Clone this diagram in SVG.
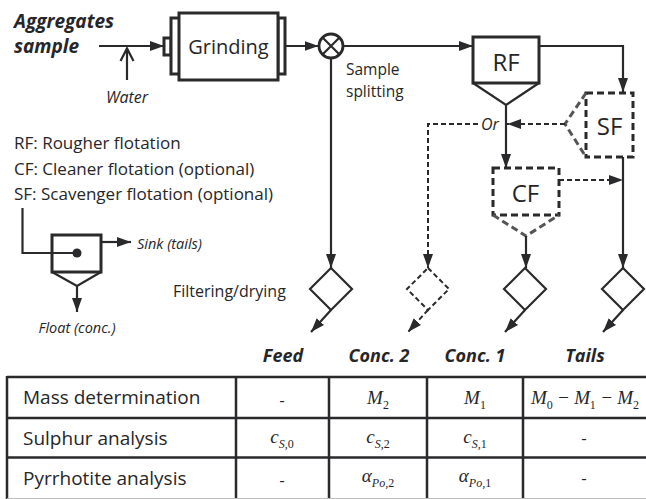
<svg xmlns="http://www.w3.org/2000/svg" width="646" height="499" viewBox="0 0 646 499">
  <style>
    .ln{fill:none;stroke:#2a2a2c;stroke-width:2.2}
    .dl{fill:none;stroke:#2a2a2c;stroke-width:2;stroke-dasharray:5 3}
    .box{fill:#fff;stroke:#2a2a2c;stroke-width:3}
    .dbox{fill:#fff;stroke:#2a2a2c;stroke-width:3;stroke-dasharray:7 4}
    .dv{fill:none;stroke:#555;stroke-width:3;stroke-dasharray:7 4}
    .tb{fill:none;stroke:#2a2a2c;stroke-width:2.5}
    text{font-family:"Open Sans","DejaVu Sans",sans-serif;fill:#262628}
    .bi{font-weight:bold;font-style:italic}
    .it{font-style:italic}
    .mi{font-family:"Liberation Serif","DejaVu Serif",serif;font-style:italic;font-size:19px}
    .sb{font-size:12px}
    .up{font-style:normal}
  </style>
  <defs>
    <marker id="ah" markerUnits="userSpaceOnUse" markerWidth="15" markerHeight="11" refX="14" refY="5" orient="auto">
      <path d="M0,0 L14,5 L0,10 z" fill="#2a2a2c"/>
    </marker>
  </defs>

  <!-- feed label and water input -->
  <g id="input">
    <text class="bi" x="14" y="28" font-size="19">Aggregates</text>
    <text class="bi" x="14" y="53" font-size="19">sample</text>
    <text class="it" x="127" y="103" font-size="16" text-anchor="middle">Water</text>
  </g>

  <!-- grinding mill -->
  <g id="grinding">
    <rect class="box" x="164" y="38" width="7" height="17" stroke-width="2.5"/>
    <rect class="box" x="171" y="18" width="9" height="56" stroke-width="2.5"/>
    <rect class="box" x="278" y="18" width="7" height="56" stroke-width="2.5"/>
    <rect class="box" x="179" y="13" width="99" height="67"/>
    <text x="228.5" y="54" font-size="20" text-anchor="middle">Grinding</text>
  </g>

  <!-- sample splitter -->
  <g id="splitter">
    <circle cx="331" cy="46" r="12" fill="#fff" stroke="#2a2a2c" stroke-width="2.8"/>
    <path class="ln" d="M322.5,37.5 L339.5,54.5 M339.5,37.5 L322.5,54.5" stroke-width="2.8"/>
    <text font-size="15.5"><tspan x="346" y="75">Sample</tspan><tspan x="346" y="96.5">splitting</tspan></text>
  </g>

  <!-- rougher flotation -->
  <g id="rf">
    <rect class="box" x="473" y="37" width="66" height="46"/>
    <path class="ln" d="M473,83 L506,105 L539,83" stroke-width="2.6"/>
    <text x="506" y="70.5" font-size="24" text-anchor="middle">RF</text>
  </g>

  <!-- scavenger flotation (optional) -->
  <g id="sf">
    <rect class="dbox" x="586" y="93" width="47" height="64"/>
    <path class="dv" d="M586,93 L565,124 L586,157" stroke="#2a2a2c"/>
    <text x="609.5" y="135" font-size="24" text-anchor="middle">SF</text>
  </g>

  <!-- cleaner flotation (optional) -->
  <g id="cf">
    <rect class="dbox" x="493" y="168" width="66" height="47"/>
    <path class="dv" d="M493,215 L526,236 L559,215"/>
    <text x="525.5" y="201.5" font-size="24" text-anchor="middle">CF</text>
  </g>

  <text class="it" x="481" y="129.5" font-size="16">Or</text>

  <!-- filtering / drying units -->
  <g id="filter-feed">
    <path class="ln" d="M331,268 L352,289 L331,310 L310,289 Z" stroke-width="2.5"/>
    <text x="173" y="297" font-size="16">Filtering/drying</text>
  </g>
  <g id="filter-conc2">
    <path class="dl" d="M428,268 L449,289 L428,310 L407,289 Z" stroke-width="2.5"/>
  </g>
  <g id="filter-conc1">
    <path class="ln" d="M525,268 L546,289 L525,310 L504,289 Z" stroke-width="2.5"/>
  </g>
  <g id="filter-tails">
    <path class="ln" d="M623,268 L644,289 L623,310 L602,289 Z" stroke-width="2.5"/>
  </g>

  <!-- connectors -->
  <g id="connectors">
    <path class="ln" d="M99,46 L164,46" marker-end="url(#ah)"/>
    <path class="ln" d="M127,80 L127,48" stroke-width="1.6"/>
    <path class="ln" d="M120.5,61 L127,48.5 L133.5,61" stroke-width="1.6"/>
    <path class="ln" d="M285,46 L318.5,46" marker-end="url(#ah)"/>
    <path class="ln" d="M343,46 L473,46" marker-end="url(#ah)"/>
    <path class="ln" d="M331,58 L331,268" marker-end="url(#ah)"/>
    <path class="ln" d="M539,46 L623,46 L623,92" marker-end="url(#ah)"/>
    <path class="ln" d="M506,105 L506,168" marker-end="url(#ah)"/>
    <path class="dl" d="M565,124 L507,124" marker-end="url(#ah)"/>
    <path class="dl" d="M478,124 L428,124 L428,268" marker-end="url(#ah)"/>
    <path class="dl" d="M559,180 L623,180" marker-end="url(#ah)"/>
    <path class="ln" d="M623,157 L623,268" marker-end="url(#ah)"/>
    <path class="ln" d="M526,236 L526,268" marker-end="url(#ah)"/>
    <path class="ln" d="M331,310 L311,332" marker-end="url(#ah)"/>
    <path class="dl" d="M428,310 L408,332" marker-end="url(#ah)"/>
    <path class="ln" d="M525,310 L505,332" marker-end="url(#ah)"/>
    <path class="ln" d="M623,310 L603,332" marker-end="url(#ah)"/>
  </g>

  <!-- legend -->
  <g id="legend">
    <text x="14" y="149" font-size="17">RF: Rougher flotation</text>
    <text x="14" y="175" font-size="17">CF: Cleaner flotation (optional)</text>
    <text x="14" y="200" font-size="17">SF: Scavenger flotation (optional)</text>
    <rect class="box" x="52" y="235" width="49" height="37"/>
    <path class="ln" d="M52,272 L77,286 L101,272" stroke-width="2.8"/>
    <path class="ln" d="M22.5,208 L22.5,253 L77,253" stroke-width="1.6"/>
    <circle cx="77" cy="253" r="4.5" fill="#2a2a2c"/>
    <path class="ln" d="M101,242 L131,242" marker-end="url(#ah)"/>
    <path class="ln" d="M77,286 L77,312" marker-end="url(#ah)"/>
    <text class="it" x="137" y="249" font-size="14.5">Sink (tails)</text>
    <text class="it" x="77" y="333" font-size="14.5" text-anchor="middle">Float (conc.)</text>
  </g>

  <!-- product labels -->
  <g id="products" font-size="18" text-anchor="middle">
    <text class="bi" x="283" y="362">Feed</text>
    <text class="bi" x="379" y="362">Conc. 2</text>
    <text class="bi" x="475" y="362">Conc. 1</text>
    <text class="bi" x="585" y="362">Tails</text>
  </g>

  <!-- analysis table -->
  <g id="table">
    <path class="tb" d="M7,377 L646,377" stroke-width="3"/>
    <path class="tb" d="M7,418 L646,418 M7,457.5 L646,457.5"/>
    <path class="tb" d="M7,376 L7,499 M236,376 L236,499 M329,376 L329,499 M427,376 L427,499 M523,376 L523,499"/>
    <path d="M7,498.5 L646,498.5" stroke="#bbb" stroke-width="1"/>
    <text x="23" y="404" font-size="19">Mass determination</text>
    <text x="23" y="445" font-size="19">Sulphur analysis</text>
    <text x="23" y="485" font-size="19">Pyrrhotite analysis</text>
    <g font-size="17" text-anchor="middle">
      <text x="282" y="406">-</text>
      <text x="282" y="485.5">-</text>
      <text x="584" y="444">-</text>
      <text x="584" y="484">-</text>
    </g>
    <g text-anchor="middle">
      <text class="mi" x="378" y="404">M<tspan class="sb up" dy="5">2</tspan></text>
      <text class="mi" x="475" y="404">M<tspan class="sb up" dy="5">1</tspan></text>
      <text class="mi" x="585" y="404" textLength="108">M<tspan class="sb up" dy="5">0</tspan><tspan dy="-5"> − M</tspan><tspan class="sb up" dy="5">1</tspan><tspan dy="-5"> − M</tspan><tspan class="sb up" dy="5">2</tspan></text>
      <text class="mi" x="282" y="443">c<tspan class="sb" dy="5">S,<tspan class="up">0</tspan></tspan></text>
      <text class="mi" x="378" y="443">c<tspan class="sb" dy="5">S,<tspan class="up">2</tspan></tspan></text>
      <text class="mi" x="475" y="443">c<tspan class="sb" dy="5">S,<tspan class="up">1</tspan></tspan></text>
      <text class="mi" x="378" y="482">α<tspan class="sb" dy="5">Po,<tspan class="up">2</tspan></tspan></text>
      <text class="mi" x="475" y="482">α<tspan class="sb" dy="5">Po,<tspan class="up">1</tspan></tspan></text>
    </g>
  </g>
</svg>
